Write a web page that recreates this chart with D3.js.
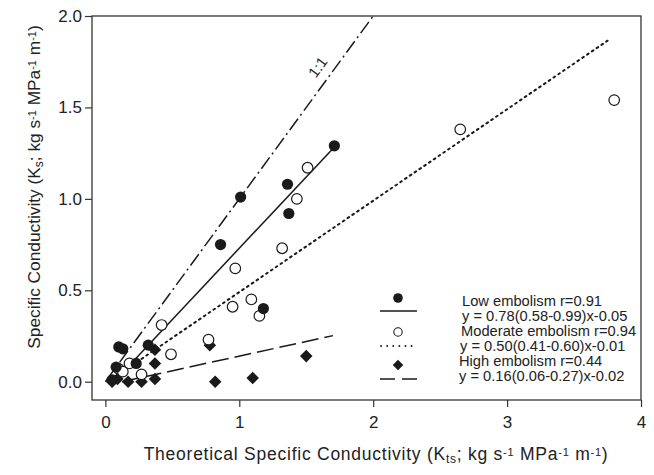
<!DOCTYPE html>
<html>
<head>
<meta charset="utf-8">
<script src="https://cdn.jsdelivr.net/npm/d3@7"></script>
<style>
  body { margin: 0; background: #fff; }
  svg { font-family: 'Liberation Sans', Arial, sans-serif; }
</style>
</head>
<body>
<svg width="654" height="475"></svg>
<script>
// data
const lowX = [0.05, 0.08, 0.10, 0.13, 0.23, 0.32, 0.86, 1.01, 1.18, 1.36, 1.37, 1.71];
const lowY = [0.01, 0.08, 0.19, 0.18, 0.10, 0.20, 0.75, 1.01, 0.40, 1.08, 0.92, 1.29];

const modX = [0.10, 0.13, 0.18, 0.27, 0.42, 0.49, 0.77, 0.95, 0.97, 1.09, 1.15, 1.32, 1.43, 1.51, 2.65, 3.80];
const modY = [0.07, 0.055, 0.10, 0.04, 0.31, 0.15, 0.23, 0.41, 0.62, 0.45, 0.36, 0.73, 1.00, 1.17, 1.38, 1.54];

const highX = [0.05, 0.09, 0.17, 0.27, 0.37, 0.37, 0.37, 0.78, 0.82, 1.10, 1.50];
const highY = [0.00, 0.015, 0.00, 0.00, 0.015, 0.10, 0.175, 0.20, 0.00, 0.02, 0.14];

// fitted lines: slope, intercept, x extent
const fitNames = ['low', 'moderate', 'high', 'one'];
const fitSlope = [0.78, 0.50, 0.16, 1];
const fitIntercept = [-0.05, -0.01, -0.02, 0];
const fitFrom = [0.064, 0.02, 0.125, 0];
const fitTo = [1.7, 3.75, 1.7, 2.0];

const xTicks = [0, 1, 2, 3, 4];
const yTicks = [0, 0.5, 1.0, 1.5, 2.0];

const legendLabels = [
  'Low embolism r=0.91',
  'y = 0.78(0.58-0.99)x-0.05',
  'Moderate embolism r=0.94',
  'y = 0.50(0.41-0.60)x-0.01',
  'High embolism r=0.44',
  'y = 0.16(0.06-0.27)x-0.02'
];

const ink = '#1a1a1a';
const svg = d3.select('svg');

const x = d3.scaleLinear().domain([-0.1, 4]).range([92, 641]);
const y = d3.scaleLinear().domain([-0.1, 2.0]).range([400, 16]);

// frame
svg.append('rect')
  .attr('x', 92).attr('y', 16)
  .attr('width', 641 - 92).attr('height', 400 - 16)
  .attr('fill', 'none').attr('stroke', '#333').attr('stroke-width', 1.3);

const xAxis = svg.append('g')
  .attr('transform', 'translate(0,400)')
  .call(d3.axisBottom(x).tickValues(xTicks).tickFormat(d3.format('d')).tickSize(7).tickPadding(9));
const yAxis = svg.append('g')
  .attr('transform', 'translate(92,0)')
  .call(d3.axisLeft(y).tickValues(yTicks).tickFormat(d3.format('.1f')).tickSize(7).tickPadding(3));

[xAxis, yAxis].forEach(a => {
  a.select('.domain').remove();
  a.selectAll('line').attr('stroke', '#333').attr('stroke-width', 1.2);
  a.selectAll('text')
    .attr('fill', '#222')
    .style('font-size', '17px')
    .style('font-family', "'Liberation Sans', Arial, sans-serif");
});

// axis titles
function unitTitle(sel, sub) {
  sel.append('tspan').attr('baseline-shift', '-25%').style('font-size', '12px').text(sub);
  sel.append('tspan').text('; kg s');
  sel.append('tspan').attr('baseline-shift', '40%').style('font-size', '11px').text('-1');
  sel.append('tspan').text(' MPa');
  sel.append('tspan').attr('baseline-shift', '40%').style('font-size', '11px').text('-1');
  sel.append('tspan').text(' m');
  sel.append('tspan').attr('baseline-shift', '40%').style('font-size', '11px').text('-1');
  sel.append('tspan').text(')');
}

const xt = svg.append('text')
  .attr('x', 376).attr('y', 460)
  .attr('text-anchor', 'middle')
  .attr('fill', '#222')
  .style('font-size', '17.5px')
  .style('letter-spacing', '0.75px');
xt.append('tspan').text('Theoretical Specific Conductivity (K');
unitTitle(xt, 'ts');

const yt = svg.append('text')
  .attr('transform', 'translate(40,187) rotate(-90)')
  .attr('text-anchor', 'middle')
  .attr('fill', '#222')
  .style('font-size', '17.3px');
yt.append('tspan').text('Specific Conductivity (K');
unitTitle(yt, 's');

// fit lines
const dashes = { low: null, moderate: '1.8,4', high: '17,6', one: '14,4,2,4' };
const caps = { low: 'butt', moderate: 'round', high: 'butt', one: 'butt' };
const fitLine = d3.line().x(d => x(d[0])).y(d => y(d[1]));

fitNames.forEach((name, i) => {
  const pts = [fitFrom[i], fitTo[i]].map(v => [v, fitSlope[i] * v + fitIntercept[i]]);
  svg.append('path')
    .attr('d', fitLine(pts))
    .attr('fill', 'none')
    .attr('stroke', ink)
    .attr('stroke-width', name === 'moderate' ? 2 : 1.5)
    .attr('stroke-linecap', caps[name])
    .attr('stroke-dasharray', dashes[name]);
});

// 1:1 label along the line
const ang = Math.atan2(y(0) - y(1), x(1) - x(0)) * 180 / Math.PI;
svg.append('text')
  .attr('transform', `translate(${x(1.72) - 18},${y(1.72)}) rotate(${-ang})`)
  .attr('text-anchor', 'middle')
  .attr('dy', '0.35em')
  .attr('fill', '#222')
  .style('font-size', '15px')
  .text('1:1');

// markers
const diamond = d3.symbol().type(d3.symbolDiamond2).size(100);

svg.append('g').selectAll('path')
  .data(d3.zip(highX, highY))
  .join('path')
  .attr('d', diamond)
  .attr('transform', d => `translate(${x(d[0])},${y(d[1])})`)
  .attr('fill', ink);

svg.append('g').selectAll('circle')
  .data(d3.zip(modX, modY))
  .join('circle')
  .attr('cx', d => x(d[0])).attr('cy', d => y(d[1]))
  .attr('r', 5.3)
  .attr('fill', '#fff')
  .attr('stroke', ink).attr('stroke-width', 1.2);

svg.append('g').selectAll('circle')
  .data(d3.zip(lowX, lowY))
  .join('circle')
  .attr('cx', d => x(d[0])).attr('cy', d => y(d[1]))
  .attr('r', 5.6)
  .attr('fill', ink);

// legend
const lg = svg.append('g');
const lx = 398;
lg.append('circle').attr('cx', lx).attr('cy', 298).attr('r', 4.8).attr('fill', ink);
lg.append('line').attr('x1', 380).attr('x2', 417).attr('y1', 311).attr('y2', 311)
  .attr('stroke', ink).attr('stroke-width', 1.5);
lg.append('circle').attr('cx', lx).attr('cy', 332).attr('r', 4.2).attr('fill', '#fff')
  .attr('stroke', ink).attr('stroke-width', 1.1);
lg.append('line').attr('x1', 381).attr('x2', 417).attr('y1', 346).attr('y2', 346)
  .attr('stroke', ink).attr('stroke-width', 1.8).attr('stroke-linecap', 'round')
  .attr('stroke-dasharray', '0.1,6');
lg.append('path').attr('d', d3.symbol().type(d3.symbolDiamond2).size(70))
  .attr('transform', `translate(${lx},365)`).attr('fill', ink);
lg.append('line').attr('x1', 380).attr('x2', 417).attr('y1', 379).attr('y2', 379)
  .attr('stroke', ink).attr('stroke-width', 1.5).attr('stroke-dasharray', '15,7');

lg.selectAll('text')
  .data(legendLabels)
  .join('text')
  .attr('x', (d, i) => [462, 462, 461, 460, 459, 459][i])
  .attr('y', (d, i) => 306 + i * 15)
  .attr('fill', '#222')
  .style('font-size', '14.7px')
  .text(d => d);
</script>
</body>
</html>
